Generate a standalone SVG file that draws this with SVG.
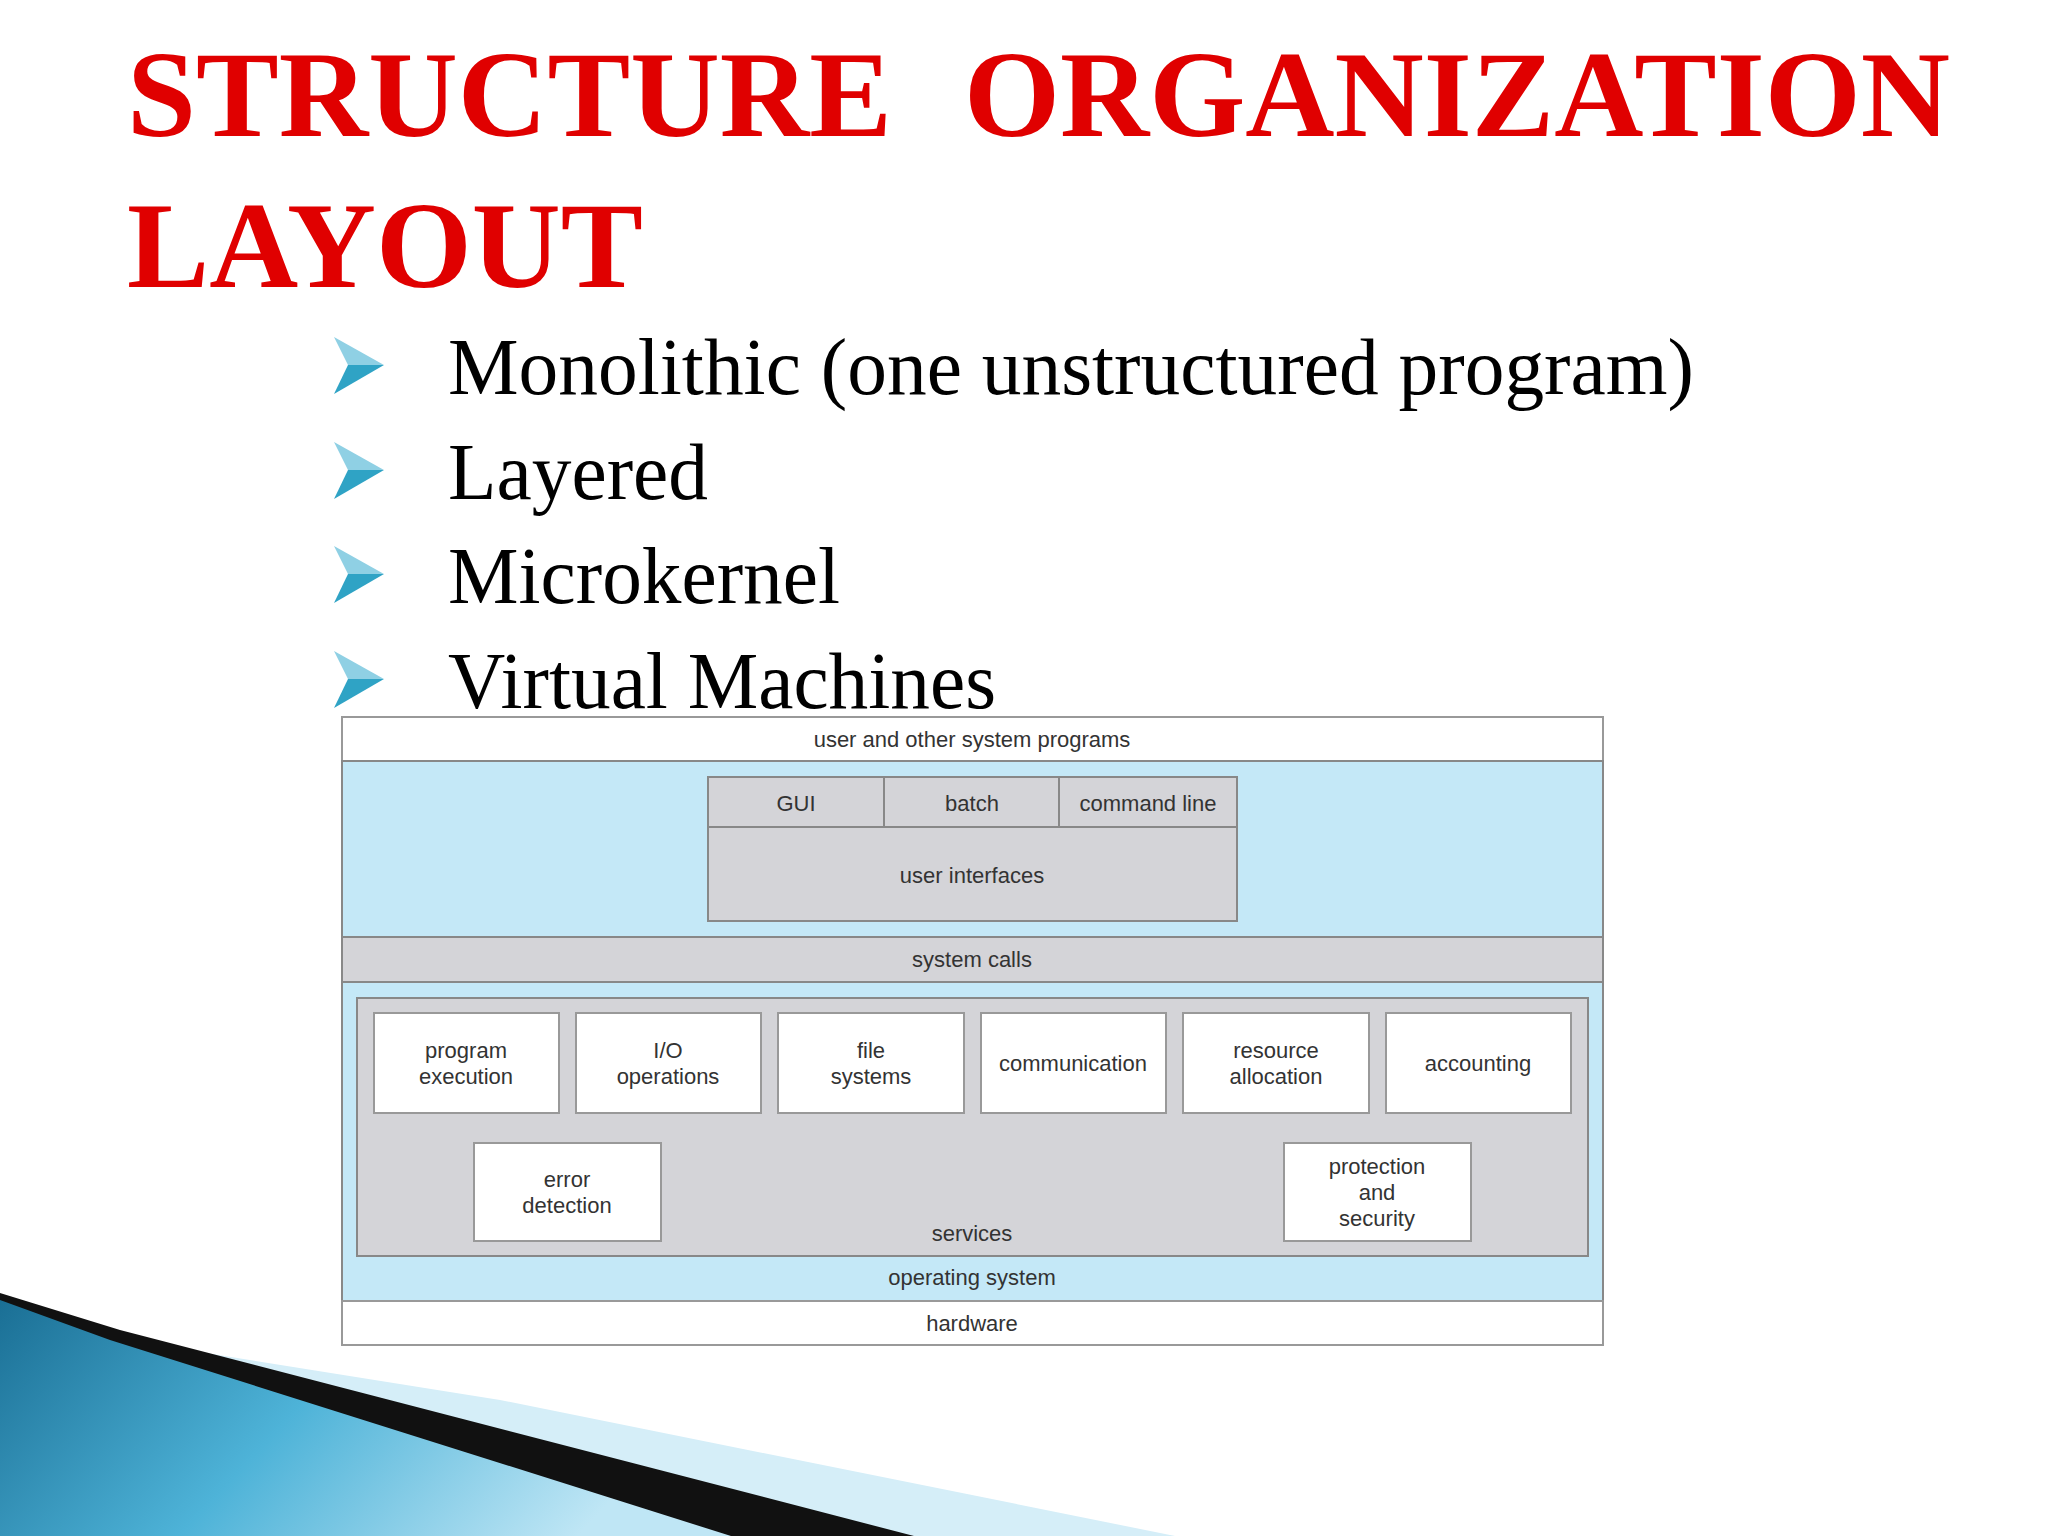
<svg xmlns="http://www.w3.org/2000/svg" width="2048" height="1536" viewBox="0 0 2048 1536">
<defs>
<style>
.t{font-family:"Liberation Serif",serif;font-weight:bold;fill:#e00000;font-size:122px}
.b{font-family:"Liberation Serif",serif;fill:#000;font-size:80px}
.s{font-family:"Liberation Sans",Arial,sans-serif;font-size:22px;fill:#333;text-anchor:middle}
.w{fill:#fff;stroke:#999;stroke-width:2}
.bl{fill:#c4e8f7;stroke:#888;stroke-width:2}
.g{fill:#d4d4d8;stroke:#888;stroke-width:2}
</style>
<linearGradient id="sw" x1="0" y1="0" x2="1" y2="0.3">
<stop offset="0" stop-color="#1a6f95"/><stop offset="0.5" stop-color="#4eb3d8"/><stop offset="1" stop-color="#bfe6f5"/>
</linearGradient>
<g id="arr"><polygon points="0,0 50,28 14,28" fill="#8fd0e4"/><polygon points="14,28 50,28 0,57" fill="#2fa3c5"/></g>
</defs>
<rect width="2048" height="1536" fill="#fff"/>
<g id="swoosh">
<polygon points="0,1320 500,1400 1175,1536 0,1536" fill="#d5eef8"/>
<polygon points="0,1293 120,1330 914,1536 0,1536" fill="#111"/>
<polygon points="0,1300 110,1340 731,1536 0,1536" fill="url(#sw)"/>
</g>
<g id="title">
<text class="t" x="127" y="136" textLength="765" lengthAdjust="spacingAndGlyphs">STRUCTURE</text>
<text class="t" x="964" y="136" textLength="986" lengthAdjust="spacingAndGlyphs">ORGANIZATION</text>
<text class="t" x="127" y="287" textLength="516" lengthAdjust="spacingAndGlyphs">LAYOUT</text>
</g>
<g id="bullets">
<use href="#arr" x="334" y="337"/><use href="#arr" x="334" y="442"/><use href="#arr" x="334" y="546"/><use href="#arr" x="334" y="651"/>
<text class="b" x="448" y="394" textLength="1246" lengthAdjust="spacingAndGlyphs">Monolithic (one unstructured program)</text>
<text class="b" x="448" y="499" textLength="260" lengthAdjust="spacingAndGlyphs">Layered</text>
<text class="b" x="448" y="603" textLength="392" lengthAdjust="spacingAndGlyphs">Microkernel</text>
<text class="b" x="448" y="708" textLength="548" lengthAdjust="spacingAndGlyphs">Virtual Machines</text>
</g>
<g id="layer-user"><rect class="w" x="342" y="717" width="1261" height="44"/><text class="s" x="972" y="747">user and other system programs</text></g>
<g id="layer-os"><rect class="bl" x="342" y="761" width="1261" height="540"/></g>
<g id="ui">
<rect class="g" x="708" y="777" width="529" height="144"/>
<line x1="708" y1="827" x2="1237" y2="827" stroke="#888" stroke-width="2"/>
<line x1="884" y1="777" x2="884" y2="827" stroke="#888" stroke-width="2"/>
<line x1="1059" y1="777" x2="1059" y2="827" stroke="#888" stroke-width="2"/>
<text class="s" x="796" y="811">GUI</text><text class="s" x="972" y="811">batch</text><text class="s" x="1148" y="811">command line</text>
<text class="s" x="972" y="883">user interfaces</text>
</g>
<g id="syscalls"><rect class="g" x="342" y="937" width="1261" height="45"/><text class="s" x="972" y="967">system calls</text></g>
<g id="services">
<rect class="g" x="357" y="998" width="1231" height="258"/>
<text class="s" x="972" y="1241">services</text>
</g>
<g id="svc">
<rect class="w" x="374" y="1013" width="185" height="100"/><text class="s" x="466" y="1058">program</text><text class="s" x="466" y="1084">execution</text>
<rect class="w" x="576" y="1013" width="185" height="100"/><text class="s" x="668" y="1058">I/O</text><text class="s" x="668" y="1084">operations</text>
<rect class="w" x="778" y="1013" width="186" height="100"/><text class="s" x="871" y="1058">file</text><text class="s" x="871" y="1084">systems</text>
<rect class="w" x="981" y="1013" width="185" height="100"/><text class="s" x="1073" y="1071">communication</text>
<rect class="w" x="1183" y="1013" width="186" height="100"/><text class="s" x="1276" y="1058">resource</text><text class="s" x="1276" y="1084">allocation</text>
<rect class="w" x="1386" y="1013" width="185" height="100"/><text class="s" x="1478" y="1071">accounting</text>
<rect class="w" x="474" y="1143" width="187" height="98"/><text class="s" x="567" y="1187">error</text><text class="s" x="567" y="1213">detection</text>
<rect class="w" x="1284" y="1143" width="187" height="98"/><text class="s" x="1377" y="1174">protection</text><text class="s" x="1377" y="1200">and</text><text class="s" x="1377" y="1226">security</text>
</g>
<text class="s" x="972" y="1285">operating system</text>
<g id="hardware"><rect class="w" x="342" y="1301" width="1261" height="44"/><text class="s" x="972" y="1331">hardware</text></g>
</svg>
